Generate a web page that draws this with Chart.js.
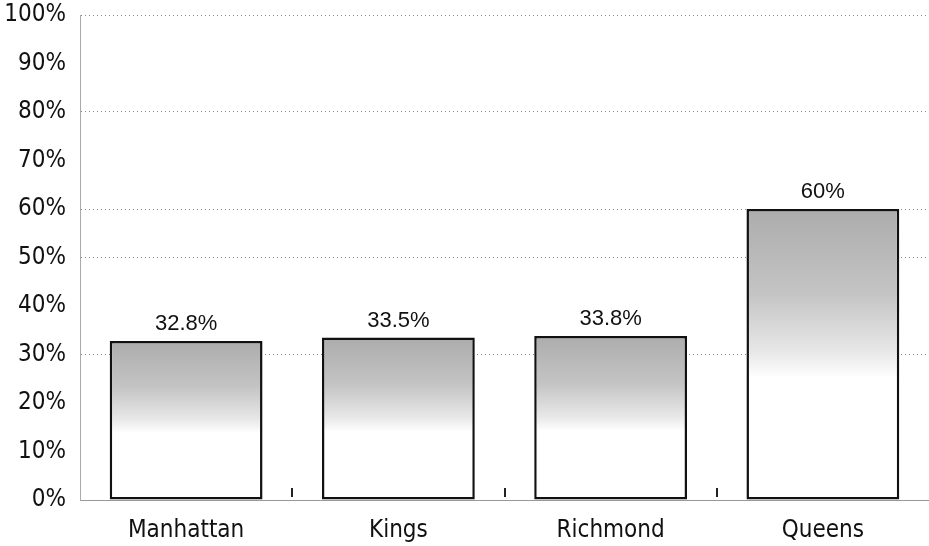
<!DOCTYPE html>
<html>
<head>
<meta charset="utf-8">
<script src="https://cdn.jsdelivr.net/npm/chart.js@4"></script>
<style>
  html, body { margin: 0; padding: 0; background: #fff; }
  #wrap { width: 929px; height: 546px; }
</style>
</head>
<body>
<div id="wrap"><canvas id="chart"></canvas></div>
<script>
// data
const boroughs = ["Manhattan", "Kings", "Richmond", "Queens"];
const shares = [32.8, 33.5, 33.8, 60];
const valueLabels = ["32.8%", "33.5%", "33.8%", "60%"];
const yTicks = [0, 10, 20, 30, 40, 50, 60, 70, 80, 90, 100];
const gridShown = [30, 50, 60, 80, 100];

const narrow = "'Liberation Sans Narrow', 'DejaVu Sans Condensed', sans-serif";

// stippled look of the print: grey at the top fading to white lower down
function barFill(ctx) {
    const chart = ctx.chart;
    const area = chart.chartArea;
    if (!area || ctx.type !== "data") return "#bbb";
    const y = chart.scales.y;
    const top = y.getPixelForValue(ctx.raw);
    const end = y.getPixelForValue(ctx.raw * 0.42);
    const g = chart.ctx.createLinearGradient(0, top, 0, end);
    g.addColorStop(0, "#acacac");
    g.addColorStop(0.5, "#c4c4c4");
    g.addColorStop(0.85, "#e8e8e8");
    g.addColorStop(1, "#ffffff");
    return g;
}

const labelPlugin = {
    id: "barLabels",
    afterDatasetsDraw(chart) {
        const c = chart.ctx;
        const meta = chart.getDatasetMeta(0);
        c.save();
        c.font = "22px 'Liberation Sans', sans-serif";
        c.fillStyle = "#111";
        c.textAlign = "center";
        c.textBaseline = "bottom";
        meta.data.forEach((bar, i) => {
            c.fillText(valueLabels[i], bar.x, bar.y - 6);
        });
        c.restore();
    }
};

// little separators between categories, sitting just above the baseline
const sepPlugin = {
    id: "separators",
    afterDraw(chart) {
        const x = chart.scales.x;
        const bottom = chart.chartArea.bottom;
        const c = chart.ctx;
        c.save();
        c.strokeStyle = "#222";
        c.lineWidth = 2;
        for (let i = 0; i < boroughs.length - 1; i++) {
            const px = Math.round((x.getPixelForValue(i) + x.getPixelForValue(i + 1)) / 2);
            c.beginPath();
            c.moveTo(px, bottom - 12);
            c.lineTo(px, bottom - 3);
            c.stroke();
        }
        c.restore();
    }
};

new Chart(document.getElementById("chart"), {
    type: "bar",
    data: {
        labels: boroughs,
        datasets: [{
            data: shares,
            backgroundColor: barFill,
            borderColor: "#111",
            borderWidth: 2.5,
            borderSkipped: false,
            barPercentage: 1,
            categoryPercentage: 0.72
        }]
    },
    options: {
        responsive: true,
        maintainAspectRatio: false,
        animation: false,
        layout: { padding: { top: 15, right: 0, left: 0, bottom: 0 } },
        plugins: {
            legend: { display: false },
            tooltip: { enabled: false }
        },
        scales: {
            x: {
                grid: { display: false },
                border: { display: true, color: "#999", dash: [2, 3] },
                ticks: {
                    color: "#111",
                    padding: 8,
                    font: { family: narrow, size: 24 }
                },
                afterFit(scale) { scale.height = 46; }
            },
            y: {
                min: 0,
                max: 100,
                afterBuildTicks(scale) {
                    scale.ticks = yTicks.map(v => ({ value: v }));
                },
                ticks: {
                    color: "#111",
                    padding: 14,
                    font: { family: narrow, size: 24 },
                    callback: v => v + "%"
                },
                grid: {
                    drawTicks: false,
                    lineWidth: 1,
                    color: ctx => gridShown.includes(ctx.tick.value) ? "#8a8a8a" : "rgba(0,0,0,0)"
                },
                border: { display: true, color: "#aaa", dash: [1, 3] },
                afterFit(scale) {
                    scale.width = 80;
                    scale.paddingTop = 0;
                    scale.paddingBottom = 0;
                }
            }
        }
    },
    plugins: [labelPlugin, sepPlugin]
});
</script>
</body>
</html>
